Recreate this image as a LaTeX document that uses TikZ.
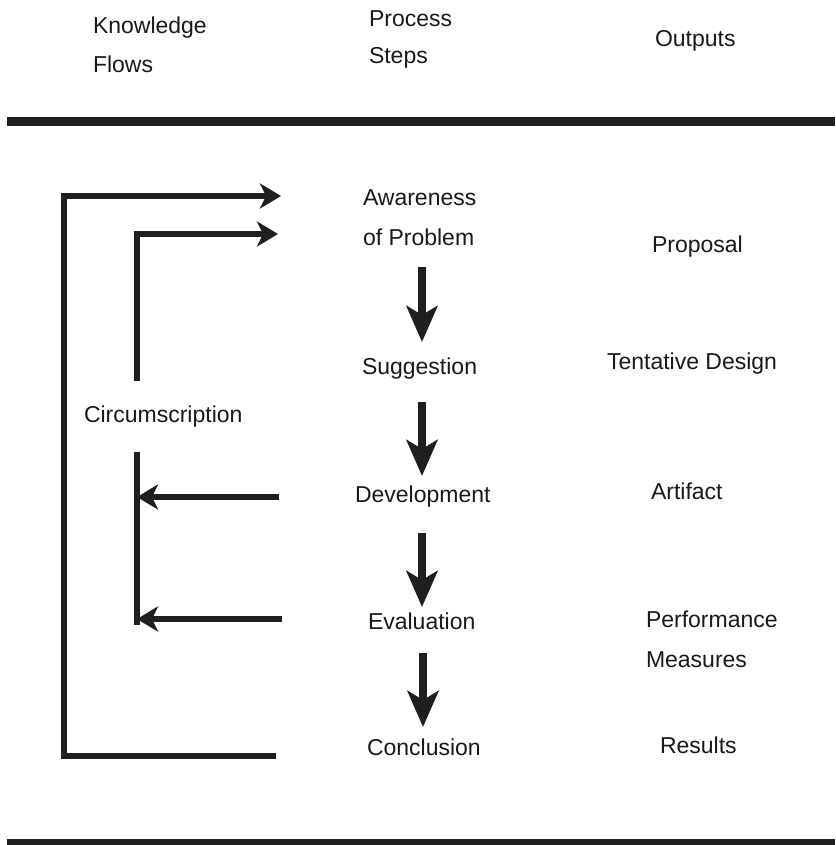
\documentclass[tikz,border=0pt]{standalone}
\usepackage{fontspec}
\setmainfont{Liberation Sans}
\usetikzlibrary{arrows.meta}
\begin{document}
\begin{tikzpicture}[x=1pt,y=-1pt,
  lbl/.style={inner sep=0pt, outer sep=0pt, anchor=base west, align=left,
              font=\fontsize{23}{40}\selectfont, text=black!90},
  rule/.style={line width=9pt, draw=black!88},
  flow/.style={line width=6pt, draw=black!88, line join=miter},
  hhead/.style={-{Stealth[length=21pt,width=25pt,inset=6pt]}},
  down/.style={line width=8pt, draw=black!88,
     -{Stealth[length=36pt,width=31pt,inset=9pt]}}]
\useasboundingbox (0,0) rectangle (835,845);
% header
\node[lbl] (hk) at (93,34) {Knowledge};
\node[lbl] (hf) at (93,72.5) {Flows};
\node[lbl] (hp) at (369,27) {Process};
\node[lbl] (hs) at (369,64) {Steps};
\node[lbl] (ho) at (655,47) {Outputs};
% rules
\coordinate (r1a) at (7,121.5);
\coordinate (r1b) at (835,121.5);
\draw[rule] (r1a) -- (r1b);
\fill[black!88] (7,839) rectangle (835,846);
% process steps
\node[lbl] (aw) at (363,205) {Awareness};
\node[lbl] (op) at (363,245) {of Problem};
\node[lbl] (sg) at (362,374) {Suggestion};
\node[lbl] (dv) at (355,502) {Development};
\node[lbl] (ev) at (368,629) {Evaluation};
\node[lbl] (cc) at (367,755) {Conclusion};
% outputs
\node[lbl] (pr) at (652,252) {Proposal};
\node[lbl] (td) at (607,369) {Tentative Design};
\node[lbl] (ar) at (651,499) {Artifact};
\node[lbl] (pf) at (646,627) {Performance};
\node[lbl] (ms) at (646,667) {Measures};
\node[lbl] (rs) at (660,753) {Results};
% knowledge flows
\node[lbl] (ci) at (84,422) {Circumscription};
% down arrows
\coordinate (d1a) at (422,267); \coordinate (d1b) at (422,342);
\coordinate (d2a) at (422,402); \coordinate (d2b) at (422,476);
\coordinate (d3a) at (422,533); \coordinate (d3b) at (422,607);
\coordinate (d4a) at (423,653); \coordinate (d4b) at (423,727);
\draw[down] (d1a) -- (d1b);
\draw[down] (d2a) -- (d2b);
\draw[down] (d3a) -- (d3b);
\draw[down] (d4a) -- (d4b);
% outer bracket
\coordinate (ob1) at (276,756);
\coordinate (ob2) at (64,196);
\coordinate (ot) at (281,196);
\draw[flow,hhead] (ob1) -| (ob2) -- (ot);
% inner top bracket
\coordinate (it1) at (137,381);
\coordinate (it2) at (278,234);
\draw[flow,hhead] (it1) |- (it2);
% inner bottom bracket
\coordinate (ib1) at (137,452);
\coordinate (ib2) at (137,625);
\draw[flow] (ib1) -- (ib2);
\coordinate (e1) at (279,497);
\coordinate (e1t) at (137,497);
\coordinate (e2) at (282,619);
\coordinate (e2t) at (137,619);
\draw[flow,hhead] (e1) -- (e1t);
\draw[flow,hhead] (e2) -- (e2t);
\end{tikzpicture}
\end{document}
